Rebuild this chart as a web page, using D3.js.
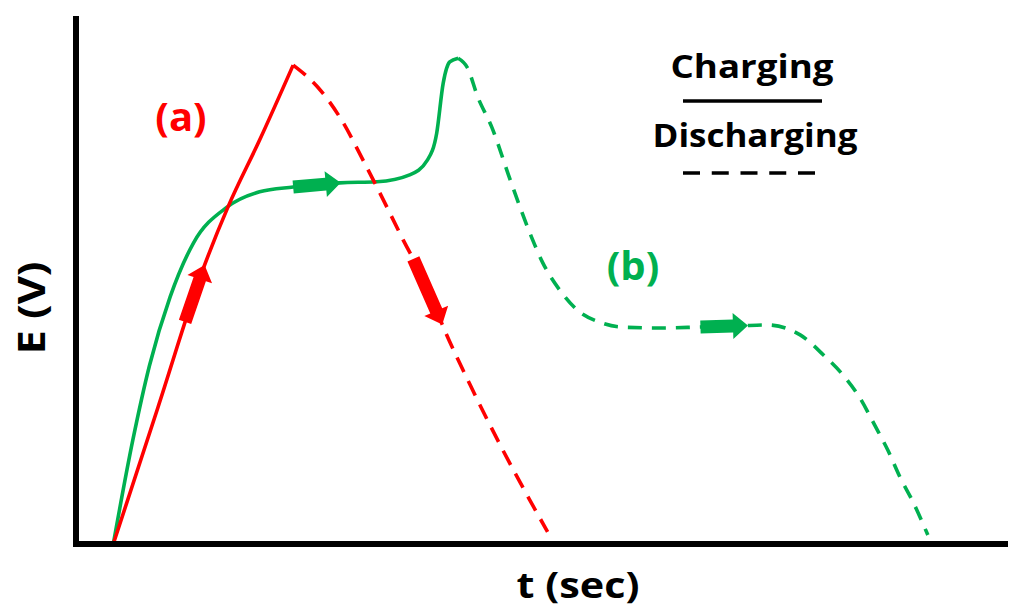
<!DOCTYPE html>
<html>
<head>
<meta charset="utf-8">
<script src="https://cdn.jsdelivr.net/npm/d3@7"></script>
<style>
  html, body { margin: 0; padding: 0; background: #fff; }
  svg { display: block; }
  text { font-family: "Open Sans", "Noto Sans", sans-serif; font-weight: 700; }
</style>
</head>
<body>
<svg id="chart" width="1010" height="609"></svg>
<script>
// Potential E (arbitrary units, 0-100) against time t (arbitrary units, 0-100)

// (a) charge / discharge
const redChargeT = [4.0, 8.8, 13.6, 16.3, 19.7, 23.3];
const redChargeE = [0, 25.9, 51.9, 63.8, 76.5, 90.7];
const redDischargeT = [23.3, 25.9, 28.7, 30.8, 32.6, 35.1, 37.7, 39.1, 42.3, 45.5, 50.6];
const redDischargeE = [90.7, 86.6, 79.7, 72.7, 66.5, 57.6, 48.7, 42.4, 30.1, 18.8, 2.3];

// (b) charge / discharge
const greenChargeT = [4.0, 6.1, 7.9, 10.1, 12.6, 16.2, 19.7, 23.3, 28.3, 32.3, 35.8, 37.7, 38.7, 39.4, 40.1, 41.0];
const greenChargeE = [0, 19.7, 33.9, 46.8, 57.0, 63.8, 66.7, 67.6, 68.4, 68.6, 69.9, 72.7, 77.8, 87.3, 91.3, 92.0];
const greenDischargeT = [41.0, 42.0, 43.1, 44.6, 46.6, 48.7, 50.1, 51.9, 53.8, 56.2, 58.4, 62.7, 67.0, 71.2, 74.1, 77.7, 80.2, 82.3, 84.1, 85.7, 87.1, 88.4, 89.8, 91.4];
const greenDischargeE = [92.0, 90.2, 84.7, 79.0, 68.9, 58.9, 53.2, 48.1, 44.3, 42.0, 41.1, 40.9, 41.1, 41.3, 41.5, 39.6, 35.8, 32.0, 27.7, 22.5, 17.8, 12.7, 8.0, 1.7];

// direction arrows: [series, t at tail, t at tip]
const arrowSeries = ["redCharge", "redDischarge", "greenCharge", "greenDischarge"];
const arrowTailT = [11.7, 36.2, 23.3, 67.0];
const arrowTipT = [13.8, 39.3, 28.4, 72.1];

const labelA = "(a)";
const labelB = "(b)";
const legendLabels = ["Charging", "Discharging"];
const xTitle = "t (sec)";
const yTitle = "E (V)";

const RED = "#ff0000";
const GREEN = "#00b050";

const svg = d3.select("#chart");

const x = d3.scaleLinear().domain([0, 100]).range([76, 1008]);
const y = d3.scaleLinear().domain([0, 100]).range([544, 16]);

const zip = (ts, es) => ts.map((t, i) => ({ t, e: es[i] }));
const series = {
  redCharge:      { pts: zip(redChargeT, redChargeE), color: RED, dash: null },
  redDischarge:   { pts: zip(redDischargeT, redDischargeE), color: RED, dash: "16,10" },
  greenCharge:    { pts: zip(greenChargeT, greenChargeE), color: GREEN, dash: null },
  greenDischarge: { pts: zip(greenDischargeT, greenDischargeE), color: GREEN, dash: "14,10" }
};

const line = d3.line()
  .x(d => x(d.t))
  .y(d => y(d.e))
  .curve(d3.curveMonotoneX);

// curves: green first so red sits on top where they cross
const drawOrder = ["greenCharge", "greenDischarge", "redCharge", "redDischarge"];
const paths = {};
drawOrder.forEach(k => {
  const s = series[k];
  paths[k] = svg.append("path")
    .attr("d", line(s.pts))
    .attr("fill", "none")
    .attr("stroke", s.color)
    .attr("stroke-width", 3.6)
    .attr("stroke-linecap", "butt")
    .attr("stroke-dasharray", s.dash)
    .node();
});

// locate the point on a rendered curve whose x matches a given time
function pointAtT(node, t) {
  const target = x(t);
  const len = node.getTotalLength();
  let lo = 0, hi = len;
  for (let i = 0; i < 40; i++) {
    const mid = (lo + hi) / 2;
    if (node.getPointAtLength(mid).x < target) lo = mid; else hi = mid;
  }
  return node.getPointAtLength((lo + hi) / 2);
}

// arrows along the curves
const shaftHalf = 6.5, headHalf = 13, headLen = 15;
arrowSeries.forEach((k, i) => {
  const node = paths[k];
  const a = pointAtT(node, arrowTailT[i]);
  const b = pointAtT(node, arrowTipT[i]);
  const dx = b.x - a.x, dy = b.y - a.y;
  const L = Math.hypot(dx, dy);
  const ux = dx / L, uy = dy / L;
  const nx = -uy, ny = ux;
  const hb = { x: b.x - ux * headLen, y: b.y - uy * headLen };
  const poly = [
    [a.x + nx * shaftHalf, a.y + ny * shaftHalf],
    [hb.x + nx * shaftHalf, hb.y + ny * shaftHalf],
    [hb.x + nx * headHalf, hb.y + ny * headHalf],
    [b.x, b.y],
    [hb.x - nx * headHalf, hb.y - ny * headHalf],
    [hb.x - nx * shaftHalf, hb.y - ny * shaftHalf],
    [a.x - nx * shaftHalf, a.y - ny * shaftHalf]
  ];
  svg.append("path")
    .attr("d", "M" + poly.map(p => p.join(",")).join("L") + "Z")
    .attr("fill", series[k].color);
});

// axes frame (left and bottom)
svg.append("line")
  .attr("x1", x(0)).attr("x2", x(0))
  .attr("y1", y(100)).attr("y2", y(0) + 3)
  .attr("stroke", "#000").attr("stroke-width", 6);
svg.append("line")
  .attr("x1", x(0) - 3).attr("x2", x(100))
  .attr("y1", y(0)).attr("y2", y(0))
  .attr("stroke", "#000").attr("stroke-width", 6);

// axis titles
svg.append("text")
  .attr("x", 578).attr("y", 598)
  .attr("text-anchor", "middle")
  .attr("font-size", 36)
  .attr("textLength", 123).attr("lengthAdjust", "spacingAndGlyphs")
  .text(xTitle);
svg.append("text")
  .attr("transform", "translate(45,308) rotate(-90)")
  .attr("text-anchor", "middle")
  .attr("font-size", 37)
  .attr("textLength", 93).attr("lengthAdjust", "spacingAndGlyphs")
  .text(yTitle);

// curve labels
svg.append("text")
  .attr("x", 181).attr("y", 131)
  .attr("text-anchor", "middle")
  .attr("font-size", 40).attr("fill", RED)
  .text(labelA);
svg.append("text")
  .attr("x", 633).attr("y", 280)
  .attr("text-anchor", "middle")
  .attr("font-size", 40).attr("fill", GREEN)
  .text(labelB);

// legend
svg.append("text")
  .attr("x", 752).attr("y", 78)
  .attr("text-anchor", "middle")
  .attr("font-size", 32)
  .attr("textLength", 163).attr("lengthAdjust", "spacingAndGlyphs")
  .text(legendLabels[0]);
svg.append("line")
  .attr("x1", 683).attr("x2", 822)
  .attr("y1", 101).attr("y2", 101)
  .attr("stroke", "#000").attr("stroke-width", 3.5);
svg.append("text")
  .attr("x", 755).attr("y", 147)
  .attr("text-anchor", "middle")
  .attr("font-size", 32)
  .attr("textLength", 205).attr("lengthAdjust", "spacingAndGlyphs")
  .text(legendLabels[1]);
svg.append("line")
  .attr("x1", 683).attr("x2", 815)
  .attr("y1", 173).attr("y2", 173)
  .attr("stroke", "#000").attr("stroke-width", 3.5)
  .attr("stroke-dasharray", "17,11.75");
</script>
</body>
</html>
